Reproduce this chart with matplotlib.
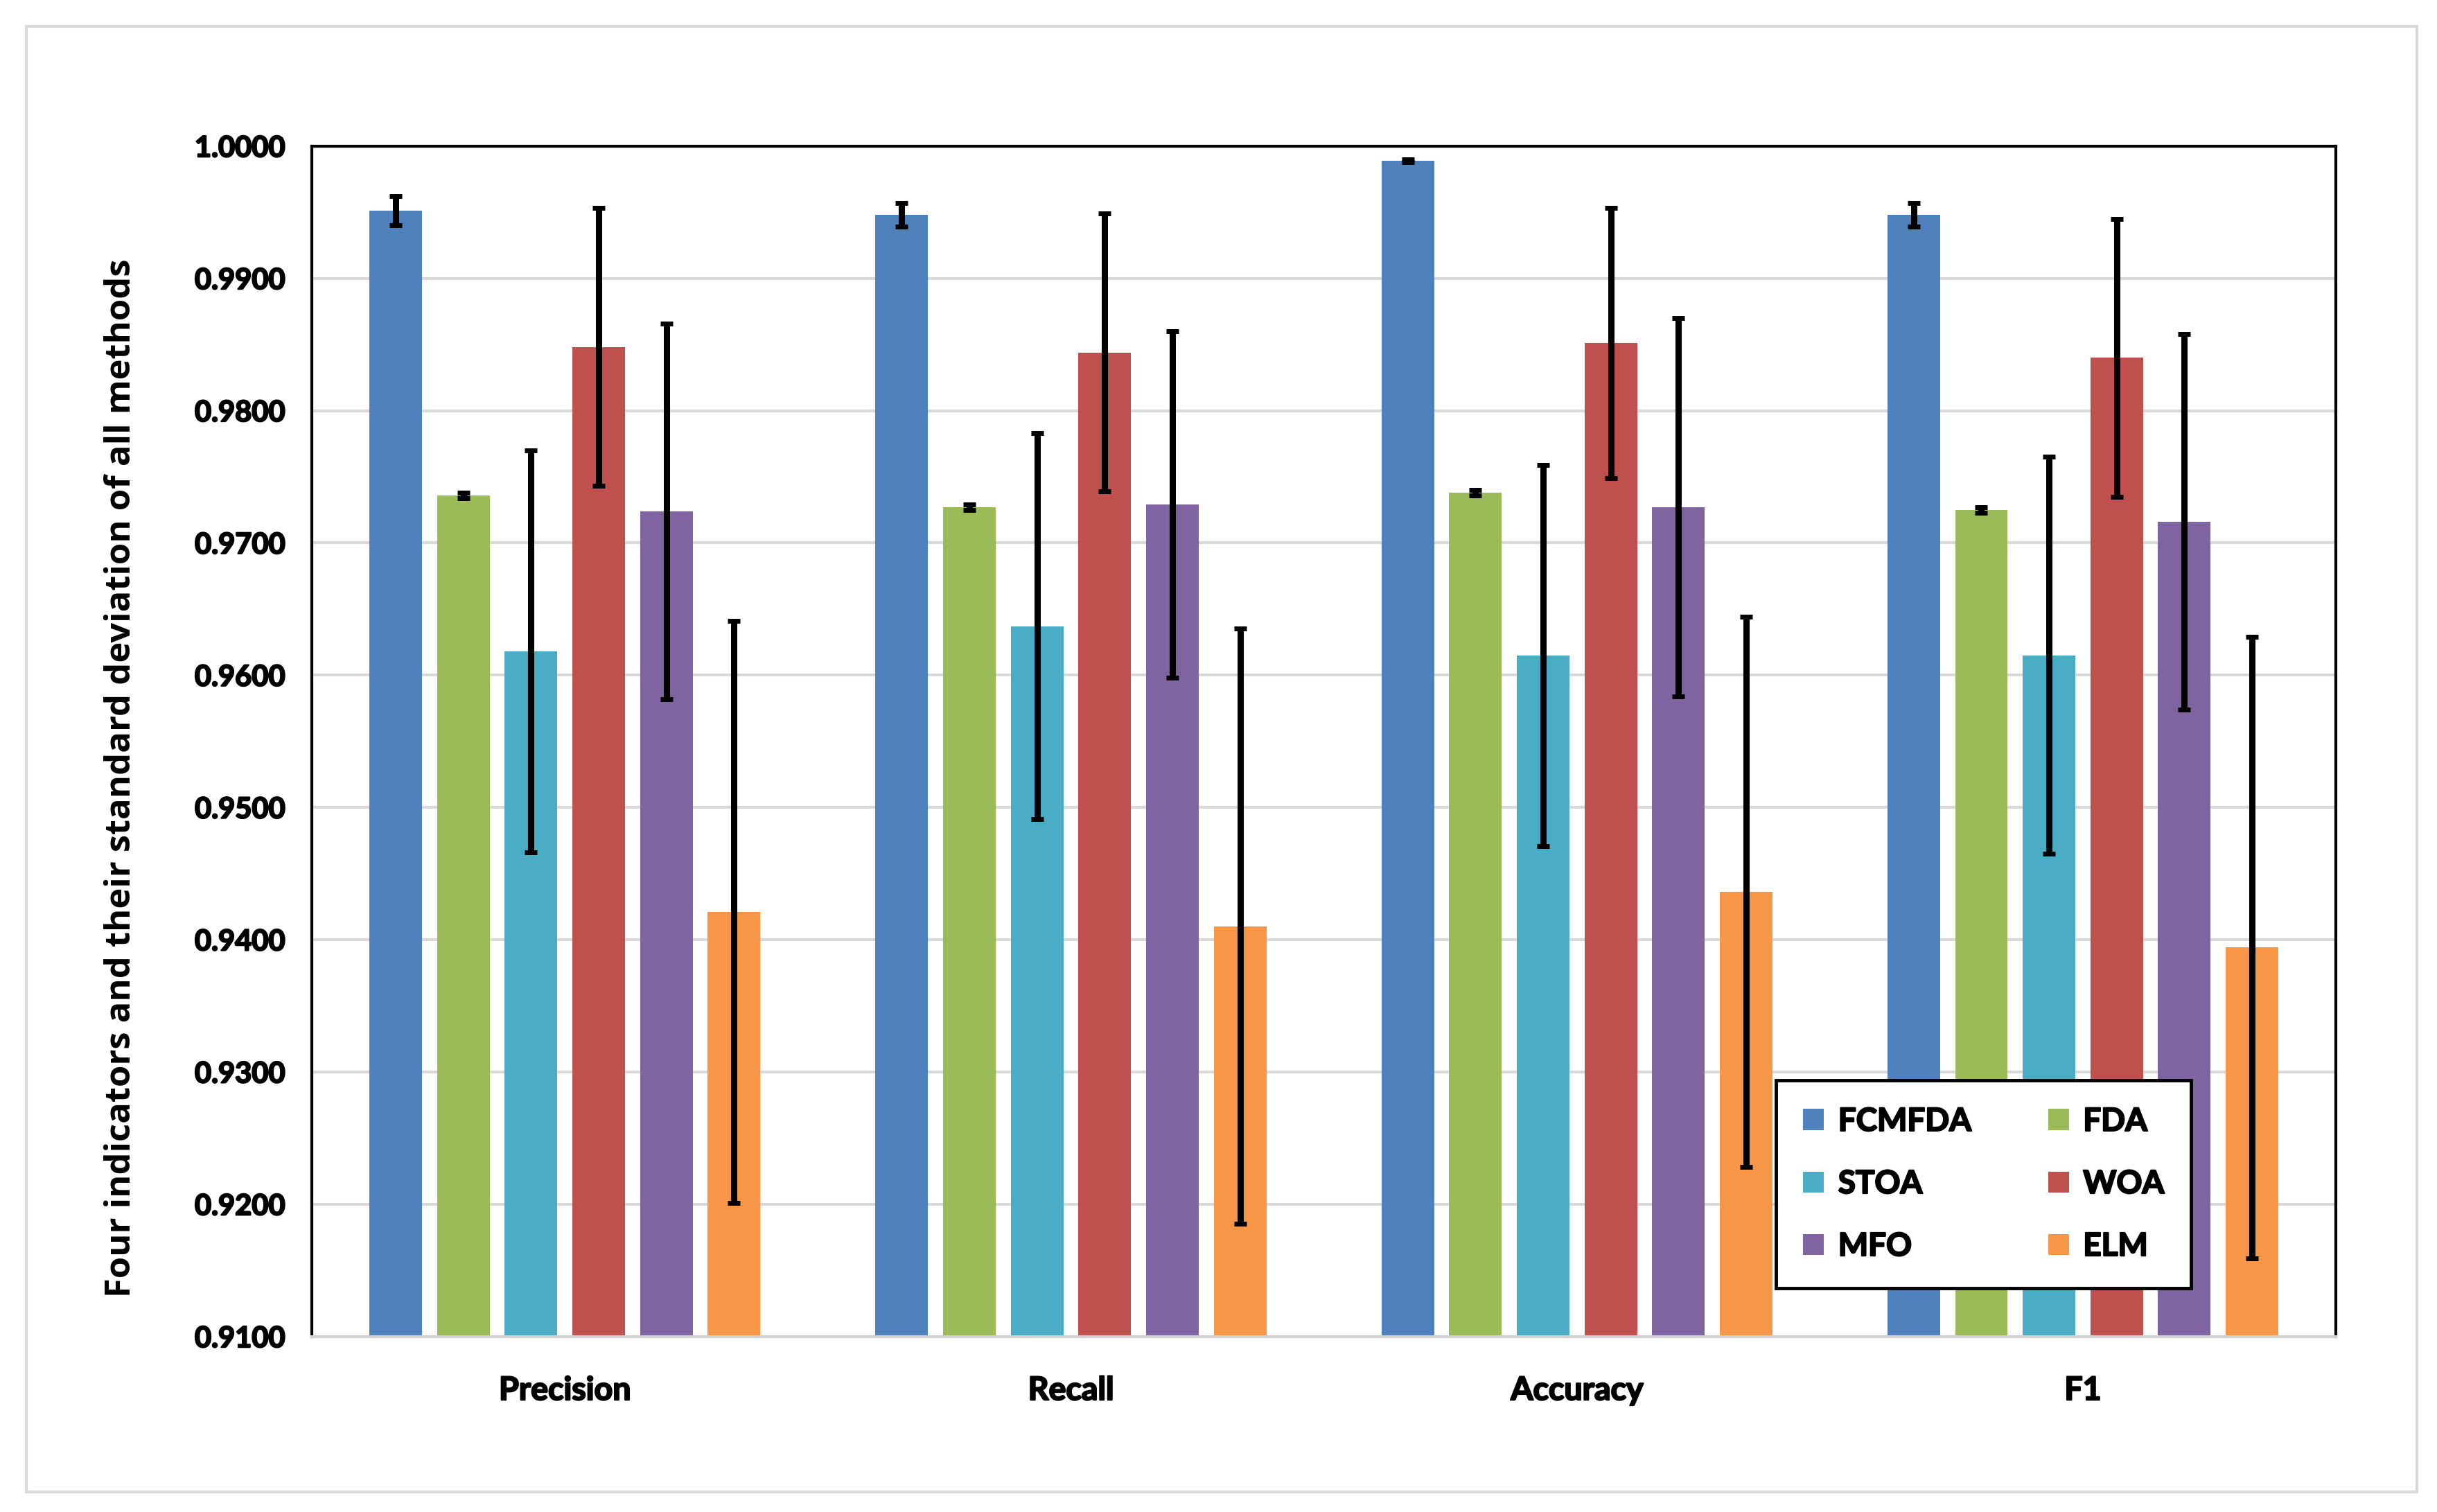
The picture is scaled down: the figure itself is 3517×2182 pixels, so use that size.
import matplotlib
matplotlib.use("Agg")
import matplotlib.pyplot as plt
import matplotlib.patheffects as pe
from matplotlib.patches import Rectangle, Patch
import numpy as np

categories = ["Precision", "Recall", "Accuracy", "F1"]
methods = ["FCMFDA", "FDA", "STOA", "WOA", "MFO", "ELM"]
colors = ["#4F81BD", "#9BBB59", "#4BACC6", "#C0504D", "#8064A2", "#F79646"]

# mean values per method, for [Precision, Recall, Accuracy, F1]
fcmfda = [0.9951, 0.9948, 0.9989, 0.9948]
fda = [0.9736, 0.9727, 0.9738, 0.9725]
stoa = [0.9618, 0.9637, 0.9615, 0.9615]
woa = [0.9848, 0.9844, 0.9851, 0.9840]
mfo = [0.9724, 0.9729, 0.9727, 0.9716]
elm = [0.9421, 0.9410, 0.9436, 0.9394]

# standard deviations
fcmfda_sd = [0.0011, 0.0009, 0.0001, 0.0009]
fda_sd = [0.0002, 0.0002, 0.0002, 0.0002]
stoa_sd = [0.0152, 0.0146, 0.0144, 0.0150]
woa_sd = [0.0105, 0.0105, 0.0102, 0.0105]
mfo_sd = [0.0142, 0.0131, 0.0143, 0.0142]
elm_sd = [0.0220, 0.0225, 0.0208, 0.0235]

yticks = [0.91, 0.92, 0.93, 0.94, 0.95, 0.96, 0.97, 0.98, 0.99, 1.00]

values = [fcmfda, fda, stoa, woa, mfo, elm]
sds = [fcmfda_sd, fda_sd, stoa_sd, woa_sd, mfo_sd, elm_sd]

fig = plt.figure(figsize=(35.17, 21.82), dpi=100)
fig.patch.set_facecolor("white")
fig.patches.append(Rectangle((38 / 3517, 1 - 2153 / 2182), (3488 - 38) / 3517, (2153 - 38) / 2182,
                             transform=fig.transFigure, fill=False, edgecolor="#D9D9D9",
                             linewidth=3, zorder=0))

ax = fig.add_axes([0.128, 0.1161, 0.9585 - 0.128, 0.9034 - 0.1161])

tick_font = ["Lato", "DejaVu Sans"]
embolden = [pe.withStroke(linewidth=1.6, foreground="black")]
x = np.arange(len(categories)) + 0.5
step = 0.1337
width = 0.104
for i, (m, v, s, c) in enumerate(zip(methods, values, sds, colors)):
    pos = x + (i - 2.5) * step
    ax.bar(pos, np.array(v) - 0.91, width=width, bottom=0.91, color=c, label=m, zorder=2)
    ax.errorbar(pos, v, yerr=s, fmt="none", ecolor="black", elinewidth=6.5,
                capsize=6.5, capthick=5, zorder=3)

ax.set_xlim(0, 4)
ax.set_ylim(0.91, 1.0)
ax.set_yticks(yticks)
ax.set_yticklabels([f"{t:.4f}" for t in yticks], fontsize=30, fontweight="bold", family=tick_font)
ax.set_xticks(x)
ax.set_xticklabels(categories, fontsize=33.5, fontweight="bold", family=tick_font)
for t in ax.get_xticklabels() + ax.get_yticklabels():
    t.set_path_effects(embolden)
ax.tick_params(axis="both", length=0)
ax.tick_params(axis="y", pad=28)
ax.tick_params(axis="x", pad=40)
ax.yaxis.grid(True, color="#D9D9D9", linewidth=3, zorder=0)
ax.set_axisbelow(True)
for side in ["top", "right", "left"]:
    ax.spines[side].set_color("black")
    ax.spines[side].set_linewidth(3)
ax.spines["bottom"].set_color("#D0D0D0")
ax.spines["bottom"].set_linewidth(3)

ax.set_ylabel("Four indicators and their standard deviation of all methods",
              fontsize=36.5, fontweight="bold", family=["Open Sans", "DejaVu Sans"])
ax.yaxis.set_label_coords(-0.0855, 0.469)

handles = [Patch(facecolor=c, label=m) for m, c in zip(methods, colors)]
order = [0, 2, 4, 1, 3, 5]
leg = ax.legend([handles[k] for k in order], [methods[k] for k in order], ncol=2,
                loc="lower left", bbox_to_anchor=(0.7235, 0.0405, 0.9286 - 0.7235, 0.2128 - 0.0405),
                mode="expand", frameon=True, fancybox=False, edgecolor="black", framealpha=1,
                prop={"family": tick_font, "weight": "bold", "size": 33},
                handlelength=0.65, handleheight=0.65, handletextpad=0.45,
                columnspacing=1.0, labelspacing=1.05, borderpad=0.85, borderaxespad=0)
for t in leg.get_texts():
    t.set_path_effects(embolden)
leg.get_frame().set_linewidth(3.5)
leg.set_zorder(5)

fig.savefig("out.png", dpi=100, facecolor="white")
